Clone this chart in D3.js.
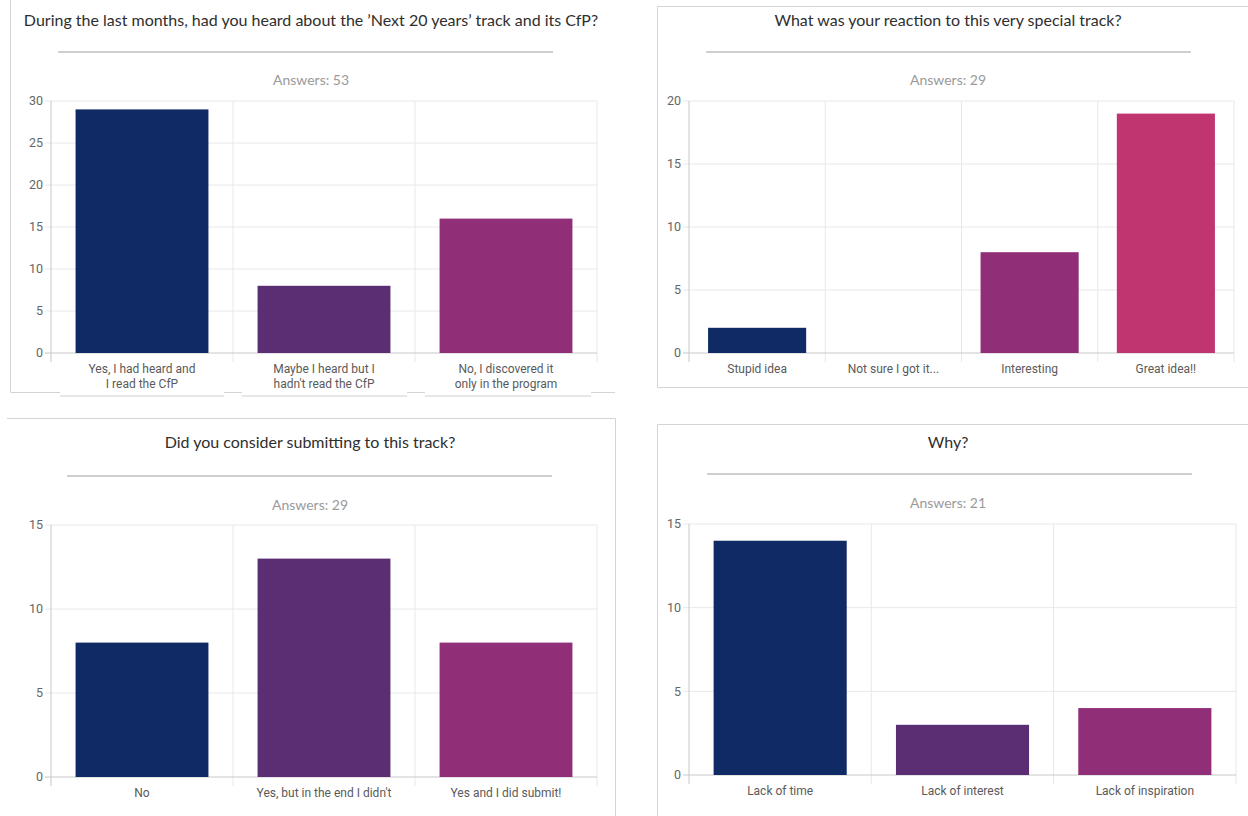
<!DOCTYPE html>
<html>
<head>
<meta charset="utf-8">
<script src="https://cdn.jsdelivr.net/npm/d3@7"></script>
<style>
  html, body { margin: 0; padding: 0; background: #fff; }
  svg { display: block; }
</style>
</head>
<body>
<div id="chart"></div>
<script>
// survey answers, one set of arrays per question
const q1Title = "During the last months, had you heard about the \u2019Next 20 years\u2019 track and its CfP?";
const q1Categories = [["Yes, I had heard and", "I read the CfP"], ["Maybe I heard but I", "hadn't read the CfP"], ["No, I discovered it", "only in the program"]];
const q1Values = [29, 8, 16];
const q1Ticks = [0, 5, 10, 15, 20, 25, 30];
const q1Answers = 53;

const q2Title = "What was your reaction to this very special track?";
const q2Categories = [["Stupid idea"], ["Not sure I got it..."], ["Interesting"], ["Great idea!!"]];
const q2Values = [2, 0, 8, 19];
const q2Ticks = [0, 5, 10, 15, 20];
const q2Answers = 29;

const q3Title = "Did you consider submitting to this track?";
const q3Categories = [["No"], ["Yes, but in the end I didn't"], ["Yes and I did submit!"]];
const q3Values = [8, 13, 8];
const q3Ticks = [0, 5, 10, 15];
const q3Answers = 29;

const q4Title = "Why?";
const q4Categories = [["Lack of time"], ["Lack of interest"], ["Lack of inspiration"]];
const q4Values = [14, 3, 4];
const q4Ticks = [0, 5, 10, 15];
const q4Answers = 21;

const barColors = ["#0f2a64", "#5b2e74", "#912e78", "#c0356f"];

const svg = d3.select("#chart").append("svg")
    .attr("width", 1248)
    .attr("height", 816);

function drawPanel(p) {
    const g = svg.append("g");

    // card edges (the screenshot cuts some of them)
    p.edges.forEach(e => {
        g.append("line")
            .attr("x1", e[0]).attr("y1", e[1]).attr("x2", e[2]).attr("y2", e[3])
            .attr("stroke", "#d4d4d4")
            .attr("stroke-width", 1);
    });

    g.append("text")
        .attr("x", p.cx)
        .attr("y", p.titleY)
        .attr("text-anchor", "middle")
        .attr("font-family", "Lato, 'Noto Sans', sans-serif")
        .attr("font-size", "16px")
        .attr("fill", "#2e2e2e")
        .text(p.title);

    g.append("line")
        .attr("x1", p.sep[0]).attr("x2", p.sep[1])
        .attr("y1", p.sepY).attr("y2", p.sepY)
        .attr("stroke", "#cfcfcf")
        .attr("stroke-width", 2);

    g.append("text")
        .attr("x", p.cx)
        .attr("y", p.answersY)
        .attr("text-anchor", "middle")
        .attr("font-family", "Lato, 'Noto Sans', sans-serif")
        .attr("font-size", "14px")
        .attr("fill", "#9a9a9a")
        .text(`Answers: ${p.answers}`);

    const x = d3.scaleBand()
        .domain(d3.range(p.categories.length))
        .range([p.left, p.right])
        .paddingInner(p.pad)
        .paddingOuter(p.pad / 2);

    const y = d3.scaleLinear()
        .domain([0, d3.max(p.ticks)])
        .range([p.bottom, p.top]);

    const step = x.step();
    const bounds = d3.range(p.categories.length + 1).map(i => p.left + i * step);

    // horizontal grid
    g.selectAll(".hgrid")
        .data(p.ticks.filter(t => t > 0))
        .enter().append("line")
        .attr("x1", p.left - 6).attr("x2", p.right)
        .attr("y1", d => y(d)).attr("y2", d => y(d))
        .attr("stroke", "#e8e8e8");

    // vertical grid at category boundaries
    g.selectAll(".vgrid")
        .data(bounds)
        .enter().append("line")
        .attr("x1", d => d).attr("x2", d => d)
        .attr("y1", p.top).attr("y2", p.bottom + 9)
        .attr("stroke", (d, i) => i === 0 ? "#c8c8c8" : "#e8e8e8");

    // zero line
    g.append("line")
        .attr("x1", p.left - 6).attr("x2", p.right)
        .attr("y1", y(0)).attr("y2", y(0))
        .attr("stroke", "#c8c8c8");

    g.selectAll(".bar")
        .data(p.values)
        .enter().append("rect")
        .attr("x", (d, i) => x(i))
        .attr("y", d => y(d))
        .attr("width", x.bandwidth())
        .attr("height", d => y(0) - y(d))
        .attr("fill", (d, i) => barColors[i]);

    g.selectAll(".ytick")
        .data(p.ticks)
        .enter().append("text")
        .attr("x", p.left - 8)
        .attr("y", d => y(d))
        .attr("dy", "0.35em")
        .attr("text-anchor", "end")
        .attr("font-family", "Roboto, sans-serif")
        .attr("font-size", "12.5px")
        .attr("fill", "#666")
        .text(d => d);

    const labels = g.selectAll(".xlabel")
        .data(p.categories)
        .enter().append("text")
        .attr("x", (d, i) => x(i) + x.bandwidth() / 2)
        .attr("y", p.bottom + 20)
        .attr("text-anchor", "middle")
        .attr("font-family", "Roboto, sans-serif")
        .attr("font-size", "12px")
        .attr("fill", "#5a5a5a");

    labels.selectAll("tspan")
        .data(d => d)
        .enter().append("tspan")
        .attr("x", function () { return d3.select(this.parentNode).attr("x"); })
        .attr("dy", (d, i) => i === 0 ? 0 : 15)
        .text(d => d);

    if (p.under) {
        p.under.forEach(u => {
            g.append("line")
                .attr("x1", u[0]).attr("x2", u[1])
                .attr("y1", 396).attr("y2", 396)
                .attr("stroke", "#cfcfcf");
        });
    }
}

drawPanel({
    title: q1Title, categories: q1Categories, values: q1Values, ticks: q1Ticks, answers: q1Answers,
    cx: 311, titleY: 26, sep: [58, 553], sepY: 52, answersY: 85,
    left: 51, right: 597, top: 101, bottom: 353, pad: 0.27,
    edges: [[10.5, 0, 10.5, 392], [10.5, 392.5, 60, 392.5], [224, 392.5, 242, 392.5], [407, 392.5, 425, 392.5], [591, 392.5, 615, 392.5]],
    under: [[60, 224], [242, 407], [425, 591]]
});

drawPanel({
    title: q2Title, categories: q2Categories, values: q2Values, ticks: q2Ticks, answers: q2Answers,
    cx: 948, titleY: 26, sep: [706, 1191], sepY: 52, answersY: 85,
    left: 689, right: 1234, top: 101, bottom: 353, pad: 0.28,
    edges: [[657.5, 6.5, 1248, 6.5], [657.5, 6.5, 657.5, 387.5], [657.5, 387.5, 1248, 387.5]]
});

drawPanel({
    title: q3Title, categories: q3Categories, values: q3Values, ticks: q3Ticks, answers: q3Answers,
    cx: 310, titleY: 448, sep: [67, 552], sepY: 476, answersY: 510,
    left: 51, right: 597, top: 525, bottom: 777, pad: 0.27,
    edges: [[7, 418.5, 615.5, 418.5], [615.5, 418.5, 615.5, 816]]
});

drawPanel({
    title: q4Title, categories: q4Categories, values: q4Values, ticks: q4Ticks, answers: q4Answers,
    cx: 948, titleY: 448, sep: [707, 1192], sepY: 474, answersY: 508,
    left: 689, right: 1236, top: 524, bottom: 775, pad: 0.27,
    edges: [[657.5, 424.5, 1248, 424.5], [657.5, 424.5, 657.5, 816]]
});
</script>
</body>
</html>
